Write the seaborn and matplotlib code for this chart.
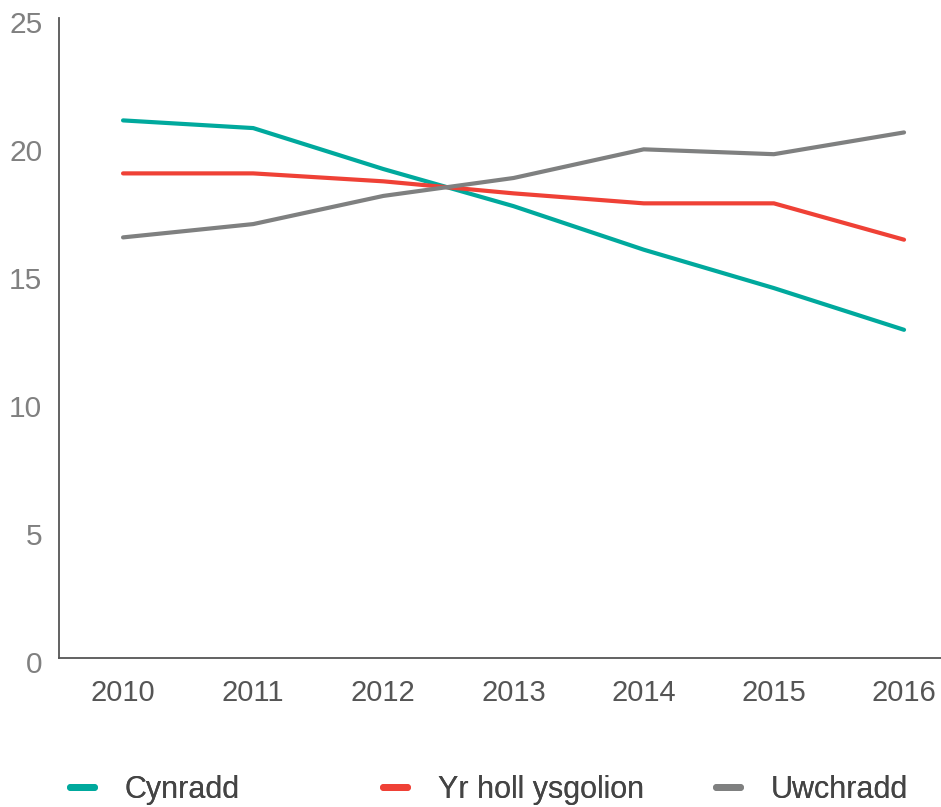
import matplotlib
matplotlib.use("Agg")
import matplotlib.pyplot as plt
import matplotlib.transforms as mtransforms
from matplotlib.lines import Line2D
import seaborn as sns
import pandas as pd

years = [2010, 2011, 2012, 2013, 2014, 2015, 2016]
cynradd = [21.0, 20.7, 19.1, 17.65, 15.95, 14.45, 12.82]
yr_holl = [18.93, 18.93, 18.62, 18.15, 17.76, 17.76, 16.34]
uwchradd = [16.43, 16.95, 18.05, 18.75, 19.87, 19.68, 20.53]
series_names = ["Cynradd", "Yr holl ysgolion", "Uwchradd"]
colors = ["#00A99D", "#EF4136", "#7F8080"]
y_ticks = [0, 5, 10, 15, 20, 25]

df = pd.DataFrame({
    "year": years * 3,
    "value": cynradd + yr_holl + uwchradd,
    "series": [series_names[0]] * 7 + [series_names[1]] * 7 + [series_names[2]] * 7,
})

sns.set_style("white")
plt.rcParams["font.family"] = ["Liberation Sans", "DejaVu Sans"]

fig = plt.figure(figsize=(9.41, 8.07), dpi=100)
ax = fig.add_axes([59 / 941, 1 - 658 / 807, 1 - 59 / 941, (658 - 18) / 807])

sns.lineplot(data=df, x="year", y="value", hue="series", hue_order=series_names,
             palette=dict(zip(series_names, colors)), linewidth=3.0, ax=ax,
             legend=True)
for ln in ax.get_lines():
    ln.set_solid_capstyle("round")

handles, labels = ax.get_legend_handles_labels()
ax.get_legend().remove()

ax.set_xlim(2009.508, 2016.284)
ax.set_ylim(0, 25)
ax.set_xticks(years)
ax.set_xticklabels([str(y) for y in years])
ax.set_yticks(y_ticks)
ax.set_xlabel("")
ax.set_ylabel("")
ax.grid(False)

for s in ["top", "right"]:
    ax.spines[s].set_visible(False)
for s in ["left", "bottom"]:
    ax.spines[s].set_color("#555555")
    ax.spines[s].set_linewidth(1.3)

ax.tick_params(axis="y", length=0, pad=12, labelsize=21.5, labelcolor="#808080")
ax.tick_params(axis="x", length=0, pad=15, labelsize=21, labelcolor="#555555")

offset = mtransforms.ScaledTranslation(0, -4 / 100, fig.dpi_scale_trans)
for lab in ax.get_yticklabels():
    lab.set_transform(lab.get_transform() + offset)

xpos = [70 / 941, 383 / 941, 716 / 941]
for h, l, x in zip(handles, labels, xpos):
    hh = Line2D([], [], color=h.get_color(), linewidth=5, solid_capstyle="round")
    leg = fig.legend([hh], [l], loc="center left", bbox_to_anchor=(x, 1 - 790 / 807),
                     frameon=False, fontsize=22, handlelength=0.8, handletextpad=1.0,
                     borderaxespad=0, borderpad=0, labelcolor="#444444")
    fig.add_artist(leg)

fig.savefig("out.png", dpi=100)
